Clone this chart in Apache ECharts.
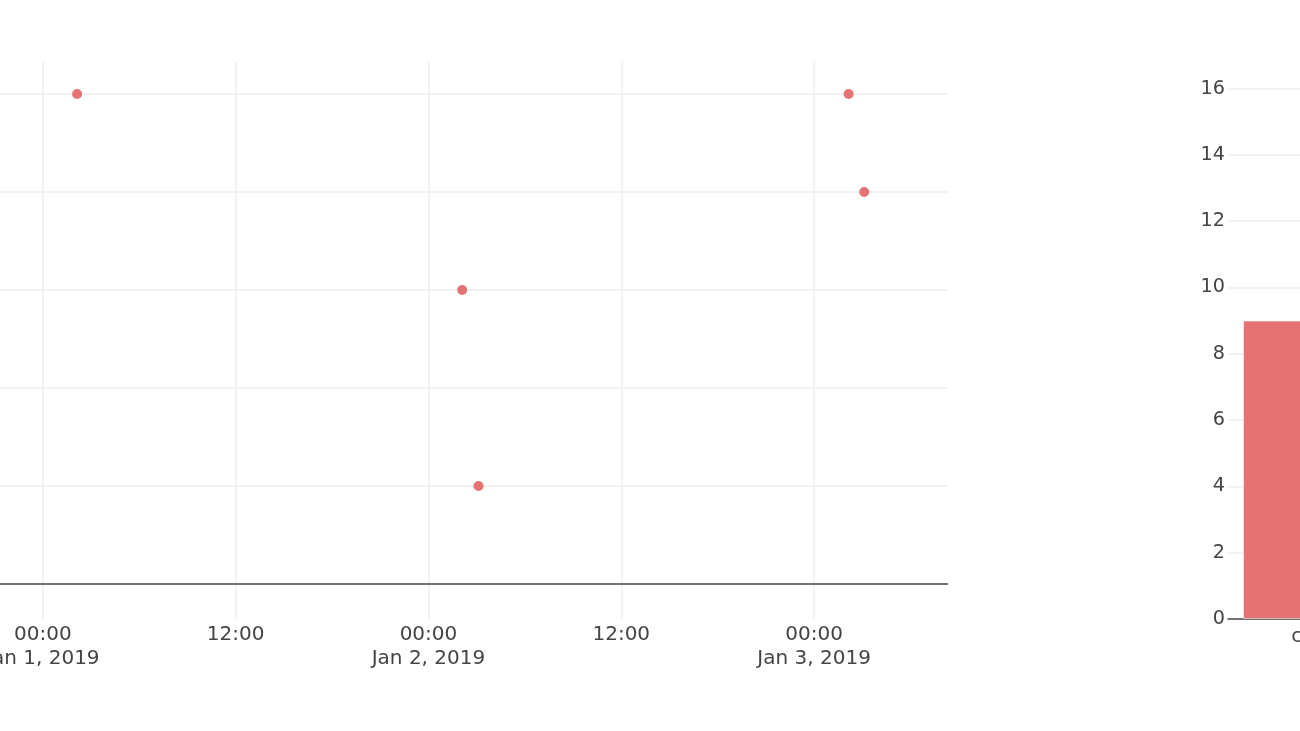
<!DOCTYPE html>
<html>
<head>
<meta charset="utf-8">
<script src="https://cdn.jsdelivr.net/npm/echarts@6/dist/echarts.min.js"></script>
<style>
html,body{margin:0;padding:0;background:#fff;overflow:hidden;width:1300px;height:731px}
#c{position:absolute;left:-150px;top:0;width:1528px;height:731px}
</style>
</head>
<body>
<div id="c"></div>
<script>
// Scatter data (UTC times) and values
const scatterTimes = ['2019-01-01T02:08:00Z', '2019-01-02T02:06:00Z', '2019-01-02T03:07:00Z', '2019-01-03T02:09:00Z', '2019-01-03T03:07:00Z'];
const scatterValues = [10, 6, 2, 10, 8];
const scatterYTicks = [0, 2, 4, 6, 8, 10];
// Bar data
const barCategories = ['c1'];
const barValues = [9];

const MONTHS = ['Jan','Feb','Mar','Apr','May','Jun','Jul','Aug','Sep','Oct','Nov','Dec'];
const HOUR = 3600 * 1000;
const xMin = Date.UTC(2018, 11, 31, 12, 0);
const xMax = Date.UTC(2019, 0, 3, 8, 20);
const RED = 'rgb(229,115,115)';
const FONT = 'DejaVu Sans';
const TXT = '#444';

const chart = echarts.init(document.getElementById('c'), null, {renderer: 'canvas'});
chart.setOption({
  animation: false,
  backgroundColor: '#fff',
  textStyle: {fontFamily: FONT},
  grid: [
    {left: 0, right: 430, top: 62, bottom: 112, containLabel: false},
    {left: 1378, right: 0, top: 62, bottom: 112, containLabel: false}
  ],
  xAxis: [
    {
      type: 'value', gridIndex: 0, min: xMin, max: xMax, interval: 12 * HOUR,
      axisLine: {show: false}, axisTick: {show: false},
      splitLine: {show: true, showMaxLine: false, lineStyle: {color: '#eee', width: 1.5}},
      axisLabel: {
        show: true, showMaxLabel: false, showMinLabel: false, margin: 4,
        color: TXT, fontSize: 20, fontFamily: FONT, lineHeight: 24,
        formatter: function (v) {
          const d = new Date(v);
          const h = d.getUTCHours();
          const hh = (h < 10 ? '0' : '') + h + ':00';
          if (h === 0) {
            return hh + '\n' + MONTHS[d.getUTCMonth()] + ' ' + d.getUTCDate() + ', ' + d.getUTCFullYear();
          }
          return hh;
        }
      }
    },
    {
      type: 'category', gridIndex: 1, data: barCategories, boundaryGap: true,
      axisLine: {show: true, lineStyle: {color: '#444', width: 1.5}},
      axisTick: {show: false},
      splitLine: {show: false},
      axisLabel: {color: TXT, fontSize: 20, fontFamily: FONT, margin: 8}
    }
  ],
  yAxis: [
    {
      type: 'value', gridIndex: 0, min: -0.714, max: 10.653, show: false,
      splitLine: {show: false}
    },
    {
      type: 'value', gridIndex: 1, min: 0, max: 16.8, interval: 2,
      axisLine: {show: false}, axisTick: {show: false},
      splitLine: {show: true, showMinLine: false, showMaxLine: false, lineStyle: {color: '#eee', width: 1.5}},
      axisLabel: {color: TXT, fontSize: 19.2, fontFamily: FONT, margin: 3, showMaxLabel: false}
    }
  ],
  series: [
    {
      type: 'scatter', xAxisIndex: 0, yAxisIndex: 0, z: 10,
      symbol: 'circle', symbolSize: 10,
      itemStyle: {color: RED, opacity: 1},
      data: scatterTimes.map((t, i) => [Date.parse(t), scatterValues[i]]),
      markLine: {
        z: 1, silent: true, symbol: ['none', 'none'], label: {show: false},
        animation: false,
        data: scatterYTicks.map(v => ({
          yAxis: v,
          lineStyle: {color: v === 0 ? '#444' : '#eee', width: 1.5, type: 'solid'}
        }))
      }
    },
    {
      type: 'bar', xAxisIndex: 1, yAxisIndex: 1, barWidth: '80%',
      itemStyle: {color: RED, borderColor: 'rgba(255,255,255,0.5)', borderWidth: 1},
      data: barValues
    }
  ]
});
</script>
</body>
</html>
